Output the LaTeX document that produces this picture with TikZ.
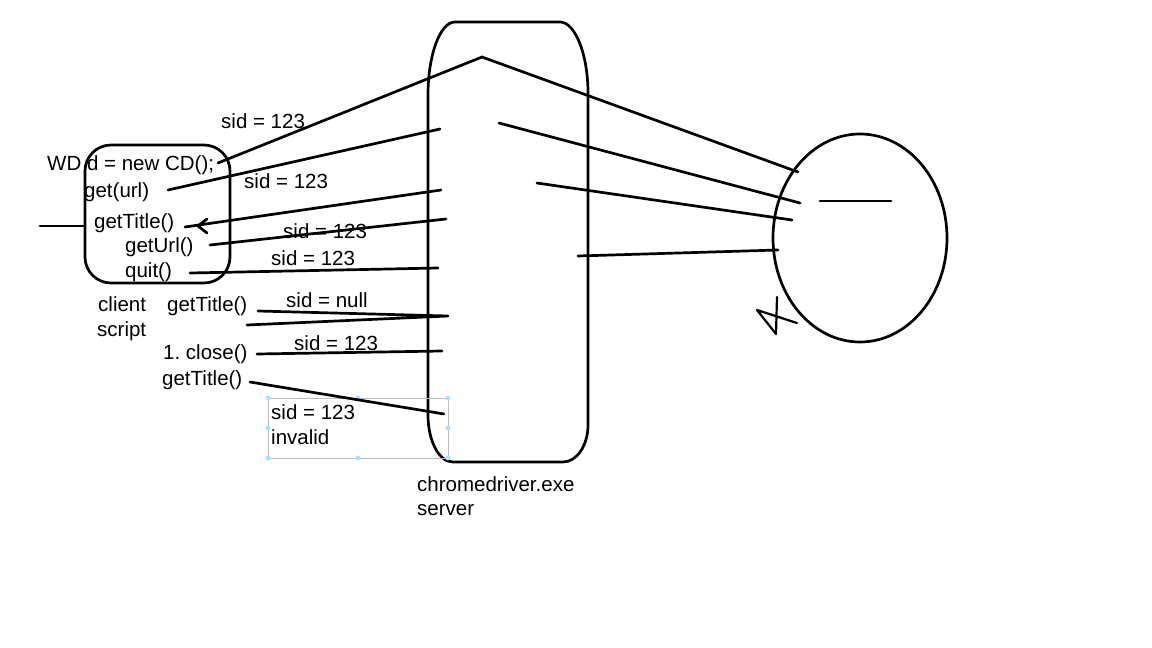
\documentclass[tikz,border=0pt]{standalone}
\usepackage{fontspec}
\setmainfont{Liberation Sans}
\usetikzlibrary{calc}
\begin{document}
\begin{tikzpicture}[x=1pt,y=-1pt,
  ink/.style={line width=2.7pt,line cap=round,line join=round},
  lbl/.style={anchor=base west,inner sep=0pt,font=\fontsize{20.5}{24}\selectfont},
  handle/.style={circle,fill=blue!30!cyan!35,inner sep=0pt,minimum size=5pt}]
\useasboundingbox (0,0) rectangle (1152,648);
% client script box
\draw[ink,rounded corners=26pt] (85,145) rectangle (230,283);
\coordinate (cl) at (85,226);
\coordinate (clout) at (40,226);
\draw[ink] (clout) -- (cl);
% server
\draw[ink] (455,22) -- (560,22) .. controls (575,22) and (588,54) .. (588,93) -- (588,425)
  .. controls (588,445) and (577,462) .. (563,462) -- (453,462)
  .. controls (439,462) and (428,441) .. (428,415) -- (428,95)
  .. controls (428,55) and (440,22) .. (455,22);
% browser ellipse
\draw[ink] (860,238) ellipse [x radius=87, y radius=104];
\coordinate (e1) at (820,201); \coordinate (e2) at (891,201);
\draw[ink] (e1) -- (e2);
% squiggle
\coordinate (q1) at (797,323); \coordinate (q2) at (757,310);
\coordinate (q3) at (776,334); \coordinate (q4) at (777,297);
\draw[ink,line width=2.2pt] (q1) -- (q2) -- (q3) -- (q4);
% texts
\node[lbl] (t1) at (221,128) {sid = 123};
\node[lbl] (wd) at (47,170) {WD d = new CD();};
\node[lbl] (geturl) at (84,197) {get(url)};
\node[lbl] (t2) at (244,188) {sid = 123};
\node[lbl] (gt1) at (94,228) {getTitle()};
\node[lbl] (gu) at (125,252) {getUrl()};
\node[lbl] (t3) at (283,238) {sid = 123};
\node[lbl] (t4) at (271,265) {sid = 123};
\node[lbl] (quit) at (125,277) {quit()};
\node[lbl] (client) at (98,311) {client};
\node[lbl] (script) at (97,336) {script};
\node[lbl] (gt2) at (167,311) {getTitle()};
\node[lbl] (tnull) at (286,307) {sid = null};
\node[lbl] (close) at (163,359) {1.\ close()};
\node[lbl] (t5) at (294,350) {sid = 123};
\node[lbl] (gt3) at (162,385) {getTitle()};
\node[lbl] (t6) at (271,419) {sid = 123};
\node[lbl] (inv) at (271,444) {invalid};
\node[lbl] (srv1) at (417,491) {chromedriver.exe};
\node[lbl] (srv2) at (417,515) {server};
% selection frame
\draw[violet!25!gray!45,line width=0.8pt] (268,398) rectangle (448,458);
\foreach \p in {(268,398),(358,398),(448,398),(268,428),(448,428),(268,458),(358,458),(448,458)}
  \node[handle] at \p {};
% connectors client -> server
\coordinate (a0) at (218,163); \coordinate (apex) at (482,57); \coordinate (b0) at (798,172);
\draw[ink] (a0) -- (apex) -- (b0);
\coordinate (a1) at (168,190); \coordinate (s1) at (440,129);
\draw[ink] (a1) -- (s1);
\coordinate (a2) at (185,227); \coordinate (s2) at (441,190);
\draw[ink] (s2) -- (a2);
\coordinate (tip) at (198,226);
\draw[ink] ($(tip)+(9,-7)$) -- (tip) -- ($(tip)+(9,7)$);
\coordinate (a3) at (210,245); \coordinate (s3) at (446,219);
\draw[ink] (a3) -- (s3);
\coordinate (a4) at (190,273); \coordinate (s4) at (438,268);
\draw[ink] (a4) -- (s4);
\coordinate (a5) at (258,311); \coordinate (s5) at (448,316);
\coordinate (a6) at (247,325);
\draw[ink] (a5) -- (s5) -- (a6);
\coordinate (a7) at (257,354); \coordinate (s7) at (442,351);
\draw[ink] (a7) -- (s7);
\coordinate (a8) at (250,382); \coordinate (s8) at (444,414);
\draw[ink] (a8) -- (s8);
% server -> browser
\coordinate (m1) at (499,123); \coordinate (b1) at (800,203);
\draw[ink] (m1) -- (b1);
\coordinate (m2) at (537,183); \coordinate (b2) at (792,220);
\draw[ink] (m2) -- (b2);
\coordinate (m3) at (578,256); \coordinate (b3) at (778,250);
\draw[ink] (m3) -- (b3);
\end{tikzpicture}
\end{document}
